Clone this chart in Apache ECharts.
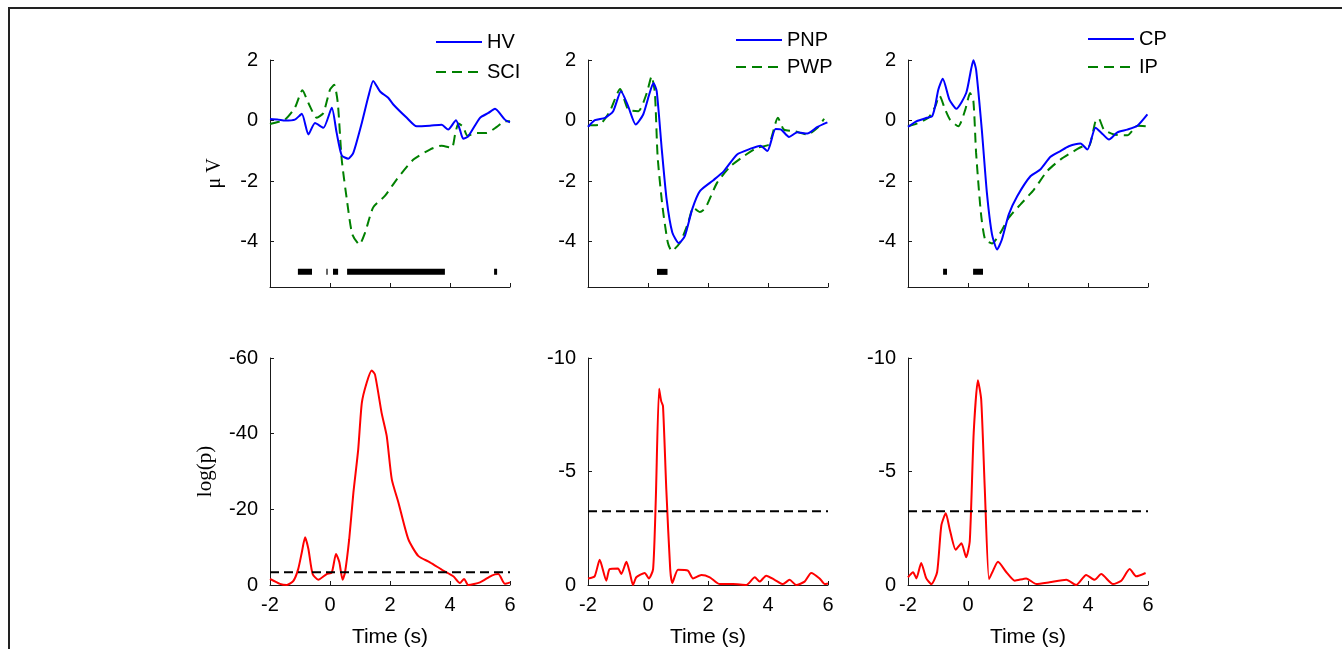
<!DOCTYPE html>
<html>
<head>
<meta charset="utf-8">
<script src="https://cdn.jsdelivr.net/npm/echarts@6/dist/echarts.min.js"></script>
<style>
html,body{margin:0;padding:0;background:#fff;}
#c{width:1342px;height:649px;}
</style>
</head>
<body>
<div id="c"></div>
<script>
// ---------- DATA ----------
// time axis ticks
const timeTicks = [-2, 0, 2, 4, 6];
const uvTicks = [-4, -2, 0, 2];

// Top-left: HV vs SCI (µV)
const hvData = [[-2,0.05],[-1.72,0.03],[-1.5,0],[-1.17,0.03],[-0.94,0.22],[-0.72,-0.46],[-0.5,-0.08],[-0.22,-0.24],[0.06,0.42],[0.22,-0.4],[0.39,-1.15],[0.61,-1.26],[0.78,-1.06],[1.06,-0.08],[1.28,0.8],[1.44,1.31],[1.67,0.96],[1.94,0.75],[2.11,0.53],[2.56,0.09],[2.89,-0.19],[3.33,-0.17],[3.72,-0.14],[3.94,-0.3],[4.2,0.01],[4.33,-0.3],[4.44,-0.6],[4.61,-0.52],[5.0,0.09],[5.28,0.25],[5.5,0.39],[5.83,0.03],[6.0,-0.06]];
const sciData = [[-2,-0.12],[-1.94,-0.1],[-1.5,0.03],[-1.17,0.42],[-0.92,1.0],[-0.72,0.58],[-0.44,0.09],[-0.22,0.25],[0.0,1.02],[0.14,1.18],[0.26,0.58],[0.39,-1.28],[0.56,-2.6],[0.74,-3.75],[0.98,-4.1],[1.17,-3.7],[1.44,-2.87],[1.83,-2.49],[2.22,-1.95],[2.78,-1.29],[3.33,-0.96],[3.72,-0.83],[4.06,-0.9],[4.17,-0.46],[4.28,-0.1],[4.44,-0.21],[4.58,-0.5],[4.89,-0.41],[5.22,-0.41],[5.56,-0.21],[5.83,-0.02],[6.0,-0.02]];
const sigHV = [[-1.07,-0.6],[-0.12,-0.08],[0.1,0.27],[0.57,3.83],[5.47,5.57]];

// Top-middle: PNP vs PWP
const pnpData = [[-2,-0.21],[-1.77,0.01],[-1.43,0.09],[-1.16,0.31],[-0.9,0.97],[-0.66,0.47],[-0.41,-0.13],[-0.16,0.2],[0.04,0.86],[0.18,1.24],[0.29,0.97],[0.46,-0.96],[0.62,-2.6],[0.81,-3.7],[1.03,-4.05],[1.23,-3.81],[1.48,-2.91],[1.73,-2.33],[2.18,-1.97],[2.53,-1.67],[2.97,-1.12],[3.42,-0.93],[3.75,-0.83],[3.98,-1.01],[4.25,-0.28],[4.44,-0.3],[4.7,-0.54],[4.98,-0.39],[5.31,-0.43],[5.65,-0.21],[5.98,-0.06]];
const pwpData = [[-2,-0.18],[-1.93,-0.16],[-1.6,-0.13],[-1.27,0.31],[-0.93,1.04],[-0.66,0.36],[-0.32,0.31],[-0.04,0.91],[0.12,1.46],[0.23,0.91],[0.32,-1.18],[0.48,-2.82],[0.66,-4.03],[0.79,-4.31],[1.07,-4.03],[1.34,-3.37],[1.51,-2.88],[1.73,-3.02],[1.92,-2.88],[2.3,-2.06],[2.75,-1.51],[3.19,-1.18],[3.64,-0.9],[4.03,-0.79],[4.33,0.09],[4.53,-0.3],[4.87,-0.35],[5.31,-0.46],[5.65,-0.24],[5.87,0.06]];
const sigPNP = [[0.3,0.65]];

// Top-right: CP vs IP
const cpData = [[-2,-0.21],[-1.71,-0.02],[-1.37,0.09],[-1.2,0.14],[-1.1,0.45],[-0.99,1.02],[-0.84,1.38],[-0.62,0.69],[-0.39,0.39],[-0.06,0.91],[0.1,1.68],[0.18,1.99],[0.27,1.68],[0.46,-0.3],[0.63,-2.39],[0.8,-3.76],[0.97,-4.26],[1.13,-3.93],[1.36,-3.1],[1.64,-2.5],[2.08,-1.84],[2.41,-1.62],[2.75,-1.2],[3.08,-1.01],[3.36,-0.85],[3.75,-0.76],[3.98,-0.96],[4.25,-0.24],[4.44,-0.4],[4.7,-0.63],[4.98,-0.39],[5.31,-0.3],[5.65,-0.17],[5.98,0.2]];
const ipData = [[-2,-0.19],[-1.71,-0.1],[-1.32,0.09],[-1.1,0.45],[-0.95,0.82],[-0.76,0.36],[-0.6,0.03],[-0.32,-0.19],[-0.09,0.36],[0.07,0.91],[0.18,0.64],[0.27,-1.07],[0.43,-3.05],[0.57,-3.93],[0.8,-4.06],[1.08,-3.71],[1.36,-3.21],[1.75,-2.77],[2.2,-2.28],[2.64,-1.67],[3.08,-1.29],[3.53,-1.01],[3.86,-0.85],[4.03,-0.85],[4.25,-0.02],[4.36,0.06],[4.53,-0.3],[4.87,-0.46],[5.31,-0.49],[5.65,-0.17],[5.98,-0.19]];
const sigCP = [[-0.83,-0.7],[0.17,0.5]];

const sigLevel = -5;   // µV level where significance bars are drawn

// Bottom: log(p)
const logpLeft = [[-2,-1.6],[-1.67,-0.3],[-1.44,0],[-1.22,-1.1],[-1.06,-4.2],[-0.94,-8.6],[-0.83,-12.6],[-0.72,-9.5],[-0.58,-2.9],[-0.39,-1.4],[-0.11,-2.9],[0.06,-3.3],[0.2,-8.2],[0.31,-6.1],[0.42,-1.4],[0.5,-3.3],[0.64,-12.1],[0.78,-24.4],[0.94,-35.8],[1.06,-48.1],[1.22,-53.4],[1.39,-56.7],[1.5,-55.6],[1.72,-45.5],[1.89,-39.4],[2.06,-27.9],[2.28,-21.8],[2.61,-12.1],[2.94,-7.7],[3.33,-6.0],[3.78,-3.8],[4.11,-2.3],[4.33,-0.5],[4.47,-1.6],[4.61,0],[5.0,-0.7],[5.39,-2.5],[5.61,-2.9],[5.83,-0.3],[6.0,-0.7]];
const logpMid = [[-2,-0.29],[-1.78,-0.38],[-1.61,-1.11],[-1.39,-0.19],[-1.28,-0.7],[-1.0,-0.73],[-0.89,-0.48],[-0.72,-1.02],[-0.61,-0.56],[-0.5,0],[-0.39,-0.34],[-0.11,-0.53],[0.03,-0.29],[0.17,-0.7],[0.26,-3.78],[0.37,-8.64],[0.44,-8.1],[0.5,-7.88],[0.61,-4.22],[0.74,-0.7],[0.81,-0.09],[1.0,-0.67],[1.33,-0.63],[1.5,-0.29],[1.78,-0.44],[2.06,-0.34],[2.39,-0.04],[2.83,-0.04],[3.28,0],[3.56,-0.34],[3.72,-0.15],[3.94,-0.41],[4.22,-0.23],[4.5,-0.04],[4.72,-0.23],[4.94,0],[5.22,-0.15],[5.44,-0.53],[5.72,-0.29],[5.89,-0.04],[6.0,-0.07]];
const logpRight = [[-2,-0.34],[-1.83,-0.56],[-1.72,-0.29],[-1.56,-0.97],[-1.39,-0.29],[-1.22,-0.04],[-1.03,-0.56],[-0.89,-2.61],[-0.74,-3.16],[-0.61,-2.46],[-0.41,-1.55],[-0.22,-1.84],[-0.06,-1.22],[0.06,-1.95],[0.19,-6.7],[0.33,-9.02],[0.44,-8.17],[0.56,-4.22],[0.7,-0.26],[0.81,-0.56],[1.0,-1.02],[1.28,-0.56],[1.56,-0.19],[1.94,-0.29],[2.28,-0.04],[2.72,-0.12],[3.28,-0.23],[3.61,0],[3.94,-0.44],[4.22,-0.23],[4.44,-0.48],[4.83,-0.04],[5.11,-0.19],[5.39,-0.7],[5.61,-0.38],[5.92,-0.53]];
const thrLeft = -3.4;
const thrMid = -3.25;
const thrRight = -3.25;

// ---------- CHART ----------
const SANS = "'Liberation Sans', Arial, Helvetica, sans-serif";
const SERIF = "'Liberation Serif', 'Times New Roman', serif";
const AX = '#1a1a1a';
const SMOOTH = 0.2;

const grids = [
  {left:270, top:60, width:240, height:227},
  {left:588, top:60, width:240, height:227},
  {left:908, top:60, width:240, height:227},
  {left:270, top:358, width:240, height:228},
  {left:588, top:358, width:240, height:228},
  {left:908, top:358, width:240, height:228}
];

function xAx(i, bottom) {
  return {
    type:'value', gridIndex:i, min:-2, max:6, interval:2,
    axisLine:{show:true, onZero:false, lineStyle:{color:AX, width:1}},
    axisTick:{show:true, inside:true, length:4, lineStyle:{color:AX}},
    axisLabel:{show:bottom, color:'#000', fontSize:20, fontFamily:SANS, margin:10},
    splitLine:{show:false},
    name: bottom ? 'Time (s)' : '',
    nameLocation:'middle', nameGap:42,
    nameTextStyle:{color:'#000', fontSize:21, fontFamily:SANS}
  };
}
function yTop(i, named) {
  return {
    type:'value', gridIndex:i, min:-5.5, max:2,
    axisLine:{show:true, onZero:false, lineStyle:{color:AX, width:1}},
    axisTick:{show:true, inside:true, length:4, customValues:uvTicks, lineStyle:{color:AX}},
    axisLabel:{color:'#000', fontSize:20, fontFamily:SANS, margin:12, customValues:uvTicks},
    splitLine:{show:false},
    name: named ? 'μ V' : '',
    nameLocation:'middle', nameGap:45, nameRotate:90,
    nameTextStyle:{color:'#000', fontSize:20, fontFamily:SERIF}
  };
}
function yBot(i, mn, step, named) {
  return {
    type:'value', gridIndex:i, min:mn, max:0, interval:step, inverse:true,
    axisLine:{show:true, onZero:false, lineStyle:{color:AX, width:1}},
    axisTick:{show:true, inside:true, length:4, lineStyle:{color:AX}},
    axisLabel:{color:'#000', fontSize:20, fontFamily:SANS, margin:12},
    splitLine:{show:false},
    name: named ? 'log(p)' : '',
    nameLocation:'middle', nameGap:54, nameRotate:90,
    nameTextStyle:{color:'#000', fontSize:21, fontFamily:SERIF}
  };
}

function blueLine(name, data, idx) {
  return {name, type:'line', xAxisIndex:idx, yAxisIndex:idx, data, symbol:'none', showSymbol:false, smooth:SMOOTH,
    lineStyle:{color:'#0000ff', width:2}, itemStyle:{color:'#0000ff'}, z:3};
}
function greenLine(name, data, idx) {
  return {name, type:'line', xAxisIndex:idx, yAxisIndex:idx, data, symbol:'none', showSymbol:false, smooth:SMOOTH,
    lineStyle:{color:'#008000', width:2, type:[10,6]}, itemStyle:{color:'#008000'}, z:2};
}
function sigBars(name, segs, idx) {
  const d = [];
  segs.forEach(s => { d.push([s[0], sigLevel]); d.push([s[1], sigLevel]); d.push([(s[1]+0.01), null]); });
  return {name, type:'line', xAxisIndex:idx, yAxisIndex:idx, data:d, symbol:'none', showSymbol:false,
    connectNulls:false, lineStyle:{color:'#000', width:6, cap:'butt'}, z:4};
}
function redLine(name, data, idx) {
  return {name, type:'line', xAxisIndex:idx, yAxisIndex:idx, data, symbol:'none', showSymbol:false, smooth:SMOOTH,
    lineStyle:{color:'#ff0000', width:2}, z:3};
}
function thrLine(name, v, idx) {
  return {name, type:'line', xAxisIndex:idx, yAxisIndex:idx, data:[[-2,v],[6,v]], symbol:'none', showSymbol:false,
    lineStyle:{color:'#000', width:2, type:[9,5]}, z:4};
}

function legend(names, left, top, gap) {
  return {
    data:names, orient:'vertical', left, top, itemWidth:46, itemHeight:14, itemGap:gap,
    selectedMode:false, padding:0,
    itemStyle:{opacity:0},
    textStyle:{color:'#000', fontSize:20, fontFamily:SANS, padding:[0,0,0,0]}
  };
}

const option = {
  animation:false,
  backgroundColor:'#fff',
  grid: grids,
  xAxis: [xAx(0,false), xAx(1,false), xAx(2,false), xAx(3,true), xAx(4,true), xAx(5,true)],
  yAxis: [yTop(0,true), yTop(1,false), yTop(2,false),
          yBot(3,-60,20,true), yBot(4,-10,5,false), yBot(5,-10,5,false)],
  legend: [
    legend(['HV','SCI'], 435, 32, 10),
    legend(['PNP','PWP'], 735, 30, 7),
    legend(['CP','IP'], 1087, 29, 8)
  ],
  graphic: [{type:'rect', shape:{x:9, y:8, width:1400, height:700}, style:{fill:'none', stroke:'#222', lineWidth:2}, silent:true}],
  series: [
    greenLine('SCI', sciData, 0), blueLine('HV', hvData, 0), sigBars('sig1', sigHV, 0),
    greenLine('PWP', pwpData, 1), blueLine('PNP', pnpData, 1), sigBars('sig2', sigPNP, 1),
    greenLine('IP', ipData, 2), blueLine('CP', cpData, 2), sigBars('sig3', sigCP, 2),
    redLine('p1', logpLeft, 3), thrLine('t1', thrLeft, 3),
    redLine('p2', logpMid, 4), thrLine('t2', thrMid, 4),
    redLine('p3', logpRight, 5), thrLine('t3', thrRight, 5)
  ]
};

const chart = echarts.init(document.getElementById('c'), null, {renderer:'canvas'});
chart.setOption(option);
</script>
</body>
</html>
